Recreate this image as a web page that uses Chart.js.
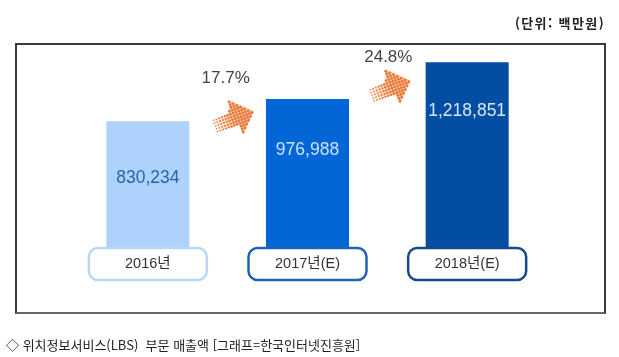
<!DOCTYPE html>
<html lang="ko">
<head>
<meta charset="utf-8">
<title>위치정보서비스(LBS) 부문 매출액</title>
<script src="https://cdn.jsdelivr.net/npm/chart.js@4"></script>
<style>
    html, body { margin: 0; padding: 0; background: #fff; }
    #wrap { position: relative; width: 619px; height: 357px; overflow: hidden; font-family: 'Liberation Sans', 'Noto Sans CJK KR', sans-serif; filter: blur(0.4px); }
    #frame { position: absolute; left: 15px; top: 43px; width: 587px; height: 267px; border: 2px solid #3a3a3a; border-bottom-color: #666; }
    #salesChart { position: absolute; left: 0; top: 0; }
    #unit { position: absolute; right: 14px; top: 15px; font-size: 13px; font-weight: 700; letter-spacing: 1.4px; color: #222; white-space: nowrap; font-family: 'Noto Sans CJK KR', sans-serif; line-height: 16px; }
    #caption { position: absolute; left: 6px; top: 336px; font-size: 13px; color: #222; white-space: pre; font-family: 'Noto Sans CJK KR', sans-serif; line-height: 17px; }
</style>
</head>
<body>
<div id="wrap">
    <div id="unit">(단위: 백만원)</div>
    <div id="frame"></div>
    <canvas id="salesChart" width="619" height="357"></canvas>
    <div id="caption">◇ 위치정보서비스(LBS)  부문 매출액 [그래프=한국인터넷진흥원]</div>
</div>
<script>
    const categories = ['2016년', '2017년(E)', '2018년(E)'];
    const sales = [830234, 976988, 1218851];
    const growthLabels = ['17.7%', '24.8%'];

    const barColors = ['#aed2fb', '#0266d6', '#034ea2'];
    const boxColors = ['#b9d7f6', '#1f62b0', '#174a8c'];
    const valueColors = ['#2166ac', '#cbe2fb', '#d6e6f8'];
    const FONT = "'Liberation Sans', 'Noto Sans CJK KR', sans-serif";

    function drawArrow(ctx, tipX, tipY) {
        // Arrow outline relative to the tip, leaning up to the right.
        const outline = [[-43, 10], [-25, 2], [-25, -11], [0, 0], [-10, 24], [-15, 13], [-38, 22]];
        ctx.save();
        ctx.translate(tipX, tipY);
        const path = new Path2D();
        outline.forEach((p, i) => (i ? path.lineTo(p[0], p[1]) : path.moveTo(p[0], p[1])));
        path.closePath();

        const fade = ctx.createLinearGradient(-43, 16, 0, 0);
        fade.addColorStop(0, 'rgba(250, 205, 165, 0)');
        fade.addColorStop(0.5, 'rgba(250, 205, 165, 0.85)');
        fade.addColorStop(1, 'rgba(250, 190, 145, 1)');
        ctx.fillStyle = fade;
        ctx.fill(path);

        // Halftone dots, growing from tail to tip.
        const cos = Math.cos(-0.35), sin = Math.sin(-0.35);
        ctx.fillStyle = '#e8763a';
        for (let u = -50; u <= 4; u += 3) {
            for (let v = -20; v <= 30; v += 3) {
                const x = u * cos - v * sin;
                const y = u * sin + v * cos;
                if (!ctx.isPointInPath(path, x + tipX, y + tipY)) continue;
                const r = 0.5 + 0.9 * Math.min(1, (u + 50) / 30);
                ctx.beginPath();
                ctx.arc(x, y, r, 0, Math.PI * 2);
                ctx.fill();
            }
        }
        ctx.restore();
    }

    const decorations = {
        id: 'decorations',
        beforeDraw(chart) {
            // Category boxes sit under the tick labels.
            const { ctx } = chart;
            const xScale = chart.scales.x;
            const yBase = chart.scales.y.getPixelForValue(0);
            categories.forEach((_, i) => {
                const cx = xScale.getPixelForTick(i);
                ctx.save();
                ctx.beginPath();
                ctx.roundRect(cx - 59, yBase + 1, 118, 32, 9);
                ctx.fillStyle = '#fff';
                ctx.fill();
                ctx.lineWidth = 2.5;
                ctx.strokeStyle = boxColors[i];
                ctx.stroke();
                ctx.restore();
            });
        },
        afterDatasetsDraw(chart) {
            const { ctx } = chart;
            const xScale = chart.scales.x;
            const yScale = chart.scales.y;
            const valueOffsets = [57, 51, 49];

            ctx.save();
            ctx.textAlign = 'center';
            ctx.textBaseline = 'middle';
            ctx.font = '17.5px ' + FONT;
            sales.forEach((v, i) => {
                ctx.fillStyle = valueColors[i];
                ctx.fillText(v.toLocaleString('en-US'), xScale.getPixelForTick(i), yScale.getPixelForValue(v) + valueOffsets[i]);
            });

            ctx.font = '17px ' + FONT;
            ctx.fillStyle = '#444';
            growthLabels.forEach((label, i) => {
                const mid = (xScale.getPixelForTick(i) + xScale.getPixelForTick(i + 1)) / 2;
                const top = yScale.getPixelForValue(sales[i + 1]);
                ctx.fillText(label, mid + (i === 0 ? -2 : 1), top - (i === 0 ? 21 : 5));
                drawArrow(ctx, mid + (i === 0 ? 26 : 23), top + (i === 0 ? 12 : 18));
            });
            ctx.restore();
        },
    };

    new Chart(document.getElementById('salesChart').getContext('2d'), {
        type: 'bar',
        data: {
            labels: categories,
            datasets: [
                {
                    data: sales,
                    backgroundColor: barColors,
                    barPercentage: 0.52,
                    categoryPercentage: 1,
                },
            ],
        },
        options: {
            responsive: false,
            animation: false,
            layout: { padding: { left: 68, right: 72, top: 50, bottom: 0 } },
            plugins: {
                legend: { display: false },
                tooltip: { enabled: false },
            },
            scales: {
                x: {
                    afterFit: (scale) => { scale.height = 110; },
                    border: { display: false },
                    grid: { display: false, drawTicks: false },
                    ticks: {
                        color: '#333',
                        font: { family: FONT, size: 14.5 },
                        padding: 8,
                        maxRotation: 0,
                    },
                },
                y: {
                    display: false,
                    min: 0,
                    max: 1300000,
                },
            },
        },
        plugins: [decorations],
    });
</script>
</body>
</html>
